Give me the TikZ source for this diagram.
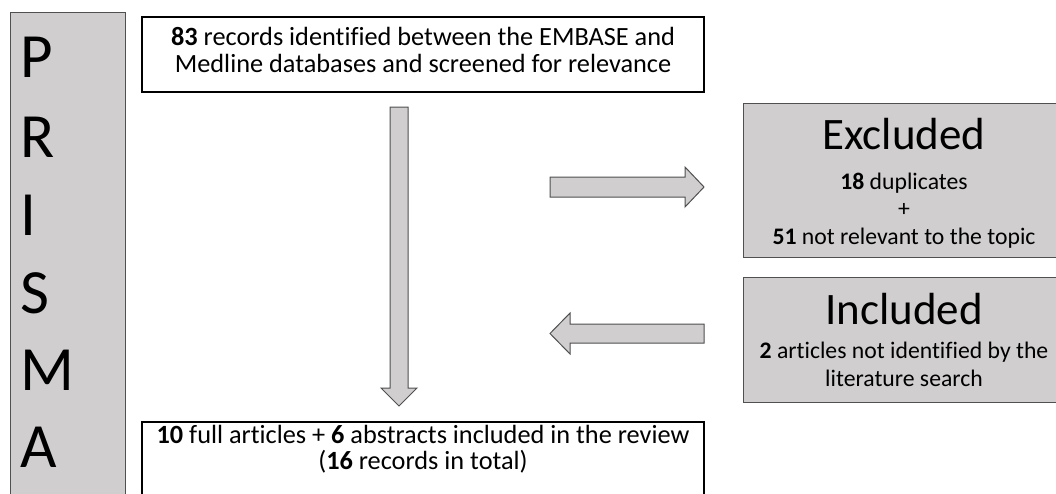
\documentclass[tikz,border=0pt]{standalone}
\usepackage{fontspec}
\setmainfont{Carlito}[Ligatures=NoCommon]
\definecolor{boxgray}{RGB}{208,206,206}
\definecolor{edgegray}{RGB}{80,80,80}
\begin{document}
\begin{tikzpicture}[x=1pt,y=-1pt,
  plainbox/.style={draw=black, line width=1.2pt, fill=white, inner sep=0pt, outer sep=0pt},
  greybox/.style={draw=edgegray, line width=1pt, fill=boxgray, inner sep=0pt, outer sep=0pt},
  blockarrow/.style={draw=edgegray, line width=1pt, fill=boxgray, line join=miter},
  bodytext/.style={anchor=base, inner sep=0pt, font=\fontsize{26.3}{31}\selectfont},
  sidetext/.style={anchor=base, inner sep=0pt, font=\fontsize{23.7}{28}\selectfont},
  headtext/.style={anchor=base, inner sep=0pt, font=\fontsize{45}{54}\selectfont},
  lettertext/.style={anchor=base west, inner sep=0pt, font=\fontsize{63}{70}\selectfont}]
\useasboundingbox (0,0) rectangle (1056,493);
\path[clip] (0,0) rectangle (1056,493);

% vertical PRISMA banner
\node[greybox, minimum width=115pt, minimum height=498pt] (banner) at (67.5,261) {};
\node[lettertext] (lP) at (20,77)  {P};
\node[lettertext] (lR) at (20,157) {R};
\node[lettertext] (lI) at (20,235) {I};
\node[lettertext] (lS) at (20,313) {S};
\node[lettertext] (lM) at (20,390) {M};
\node[lettertext] (lA) at (20,467) {A};

% identification box
\node[plainbox, minimum width=562pt, minimum height=75pt] (top) at (423,54.5) {};
\node[bodytext] (top1) at (423,45) {\textbf{83} records identified between the EMBASE and};
\node[bodytext] (top2) at (423,72) {Medline databases and screened for relevance};

% final inclusion box
\node[plainbox, minimum width=562pt, minimum height=88pt] (bottom) at (423,466) {};
\node[bodytext] (bot1) at (423,443) {\textbf{10} full articles + \textbf{6} abstracts included in the review};
\node[bodytext] (bot2) at (423,469) {(\textbf{16} records in total)};

% excluded records
\node[greybox, minimum width=321pt, minimum height=154pt] (excl) at (903.5,180) {};
\node[headtext] (exclHead) at (904,149) {Excluded};
\node[sidetext] (excl1) at (904,189) {\textbf{18} duplicates};
\node[sidetext] (excl2) at (904,216) {+};
\node[sidetext] (excl3) at (904,244) {\textbf{51} not relevant to the topic};

% records added by hand
\node[greybox, minimum width=321pt, minimum height=125pt] (incl) at (903.5,339.5) {};
\node[headtext] (inclHead) at (904,324) {Included};
\node[sidetext] (incl1) at (904,358) {\textbf{2} articles not identified by the};
\node[sidetext] (incl2) at (904,386) {literature search};

% block arrows
\coordinate (dnTail) at (399,107);
\coordinate (dnTip) at (399,406);
\draw[blockarrow] (dnTail) ++(-9,0) -- ++(18,0) -- ++(0,281) -- ++(9,0) -- (dnTip)
  -- ++(-18,-18) -- ++(9,0) -- cycle;

\coordinate (rTail) at (550,187);
\coordinate (rTip) at (704,187);
\draw[blockarrow] (rTail) ++(0,-10) -- ++(135,0) -- ++(0,-10) -- (rTip)
  -- ++(-19,20) -- ++(0,-10) -- ++(-135,0) -- cycle;

\coordinate (lTail) at (704,333.5);
\coordinate (lTip) at (550,333.5);
\draw[blockarrow] (lTail) ++(0,-9.5) -- ++(-134,0) -- ++(0,-11) -- (lTip)
  -- ++(20,20.5) -- ++(0,-11) -- ++(134,0) -- cycle;
\end{tikzpicture}
\end{document}
